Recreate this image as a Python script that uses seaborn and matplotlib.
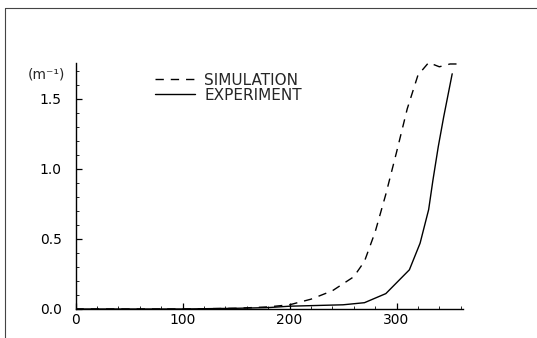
import numpy as np
import pandas as pd
import matplotlib
matplotlib.use("Agg")
import matplotlib.pyplot as plt
import seaborn as sns
from matplotlib.lines import Line2D

# ---- data ----
sim_x = [0, 50, 100, 150, 180, 200, 220, 240, 260, 270, 280, 290, 300, 310, 320, 330, 340, 350, 360]
sim_y = [0.0, 0.0, 0.0, 0.005, 0.015, 0.03, 0.07, 0.13, 0.23, 0.34, 0.55, 0.82, 1.12, 1.43, 1.67, 1.76, 1.73, 1.75, 1.75]

exp_x = [0, 50, 100, 150, 180, 200, 225, 250, 270, 290, 312, 322, 330, 334, 339, 344, 352]
exp_y = [0.0, 0.0, 0.0, 0.005, 0.01, 0.02, 0.025, 0.03, 0.045, 0.11, 0.28, 0.47, 0.71, 0.92, 1.16, 1.37, 1.68]

x_ticks = [0, 100, 200, 300]
x_ticklabels = ["0", "100", "200", "300"]
y_ticks = [0.0, 0.5, 1.0, 1.5]
y_ticklabels = ["0.0", "0.5", "1.0", "1.5"]
series_names = ["SIMULATION", "EXPERIMENT"]
y_unit = "(m⁻¹)"

sim_df = pd.DataFrame({"x": sim_x, "y": sim_y})
exp_df = pd.DataFrame({"x": exp_x, "y": exp_y})

sns.set_style("ticks")
plt.rcParams["font.family"] = ["DejaVu Sans"]

fig = plt.figure(figsize=(5.37, 3.38), dpi=100)
ax = fig.add_axes([0.1406, 0.0858, 0.7214, 0.7278])

sns.lineplot(data=sim_df, x="x", y="y", ax=ax, color="black", lw=1.0,
             dashes=False, linestyle=(0, (6, 5)), label=series_names[0])
sns.lineplot(data=exp_df, x="x", y="y", ax=ax, color="black", lw=1.0,
             label=series_names[1])

ax.set_xlim(0, 362)
ax.set_ylim(0, 1.757)
ax.set_xticks(x_ticks)
ax.set_xticklabels(x_ticklabels)
ax.set_yticks(y_ticks)
ax.set_yticklabels(y_ticklabels)
ax.set_xticks(np.arange(0, 361, 20), minor=True)
ax.set_yticks(np.arange(0, 1.76, 0.1), minor=True)
ax.tick_params(which="major", direction="in", length=4, width=0.9, labelsize=10, pad=3, colors="black")
ax.tick_params(which="minor", direction="in", length=2, width=0.7)
ax.tick_params(axis="y", pad=10)
ax.set_xlabel("")
ax.set_ylabel("")
for s in ["top", "right"]:
    ax.spines[s].set_visible(False)
for s in ["left", "bottom"]:
    ax.spines[s].set_linewidth(1.0)
    ax.spines[s].set_color("black")

ax.text(-0.027, 0.955, y_unit, transform=ax.transAxes, ha="right", va="center", fontsize=10)

leg = ax.legend(loc="upper left", bbox_to_anchor=(0.19, 0.985), frameon=False,
                fontsize=11, labelspacing=0.0, handlelength=2.6, handletextpad=0.6,
                borderaxespad=0)

# page border of the scanned figure
fig.add_artist(Line2D([5/537, 5/537], [0, 1 - 8/338], transform=fig.transFigure, color="#444444", lw=0.8))
fig.add_artist(Line2D([5/537, 1], [1 - 8/338, 1 - 8/338], transform=fig.transFigure, color="#444444", lw=0.8))

fig.savefig("out.png", dpi=100)
